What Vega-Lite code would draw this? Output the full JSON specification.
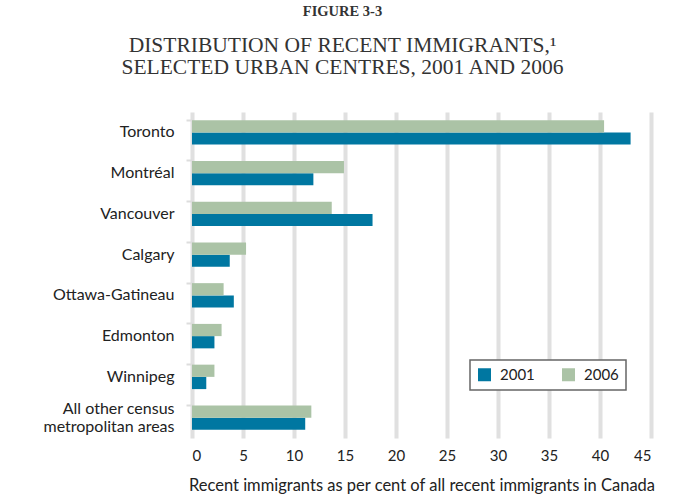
{
  "$schema": "https://vega.github.io/schema/vega-lite/v6.json",
  "autosize": "none",
  "width": 459,
  "height": 326,
  "padding": {"left": 192, "top": 112, "right": 33, "bottom": 59},
  "background": "white",
  "title": {
    "text": "FIGURE 3-3",
    "subtitle": ["DISTRIBUTION OF RECENT IMMIGRANTS,¹", "SELECTED URBAN CENTRES, 2001 AND 2006"],
    "anchor": "middle",
    "frame": "group",
    "dx": -79,
    "offset": 33,
    "font": "Liberation Serif",
    "fontSize": 14.5,
    "fontWeight": "bold",
    "color": "#333333",
    "subtitleFont": "Liberation Serif",
    "subtitleFontSize": 21.5,
    "subtitleColor": "#333333",
    "subtitleLineHeight": 22,
    "subtitlePadding": 15
  },
  "data": {
    "values": [
      {"city": "Toronto", "year": "2001", "value": 43.0},
      {"city": "Toronto", "year": "2006", "value": 40.4},
      {"city": "Montréal", "year": "2001", "value": 11.9},
      {"city": "Montréal", "year": "2006", "value": 14.9},
      {"city": "Vancouver", "year": "2001", "value": 17.7},
      {"city": "Vancouver", "year": "2006", "value": 13.7},
      {"city": "Calgary", "year": "2001", "value": 3.7},
      {"city": "Calgary", "year": "2006", "value": 5.3},
      {"city": "Ottawa-Gatineau", "year": "2001", "value": 4.1},
      {"city": "Ottawa-Gatineau", "year": "2006", "value": 3.1},
      {"city": "Edmonton", "year": "2001", "value": 2.2},
      {"city": "Edmonton", "year": "2006", "value": 2.9},
      {"city": "Winnipeg", "year": "2001", "value": 1.4},
      {"city": "Winnipeg", "year": "2006", "value": 2.2},
      {"city": "All other census metropolitan areas", "year": "2001", "value": 11.1},
      {"city": "All other census metropolitan areas", "year": "2006", "value": 11.7}
    ]
  },
  "mark": {"type": "bar"},
  "encoding": {
    "y": {
      "field": "city",
      "type": "nominal",
      "sort": null,
      "scale": {"paddingInner": 0.4, "paddingOuter": 0.2},
      "axis": {
        "title": null,
        "domain": false,
        "ticks": true,
        "tickColor": "#dddddd",
        "tickWidth": 2,
        "tickSize": 6,
        "bandPosition": 0,
        "labelFont": "Lato",
        "labelFontSize": 16,
        "labelColor": "#222222",
        "labelPadding": 12,
        "labelLineHeight": 18,
        "labelOffset": {"condition": {"test": "datum.value == 'All other census metropolitan areas'", "value": -9}, "value": 0},
        "labelExpr": "datum.label == 'All other census metropolitan areas' ? ['All other census', 'metropolitan areas'] : datum.label"
      }
    },
    "yOffset": {"field": "year", "type": "nominal", "sort": ["2006", "2001"]},
    "x": {
      "field": "value",
      "type": "quantitative",
      "scale": {"domain": [0, 45], "nice": false},
      "axis": {
        "title": "Recent immigrants as per cent of all recent immigrants in Canada",
        "values": [0, 5, 10, 15, 20, 25, 30, 35, 40, 45],
        "domain": false,
        "ticks": false,
        "grid": true,
        "gridColor": "#e0e0e0",
        "gridWidth": 4,
        "labelFont": "Lato",
        "labelFontSize": 15,
        "labelColor": "#222222",
        "labelPadding": 10,
        "titleFont": "Lato",
        "titleFontSize": 16.5,
        "titleFontWeight": "normal",
        "titleColor": "#222222",
        "titlePadding": 14
      }
    },
    "color": {
      "field": "year",
      "type": "nominal",
      "scale": {"domain": ["2001", "2006"], "range": ["#0077a1", "#abc3a6"]},
      "legend": {
        "title": null,
        "orient": "none",
        "legendX": 278,
        "legendY": 248,
        "direction": "horizontal",
        "symbolType": "square",
        "symbolSize": 169,
        "symbolStrokeWidth": 0,
        "labelFont": "Lato",
        "labelFontSize": 15,
        "labelColor": "#222222",
        "labelOffset": 8,
        "columnPadding": 26,
        "padding": 7,
        "strokeColor": "#666666",
        "fillColor": "white"
      }
    }
  },
  "config": {"view": {"stroke": null}, "legend": {"strokeWidth": 1.5}}
}
